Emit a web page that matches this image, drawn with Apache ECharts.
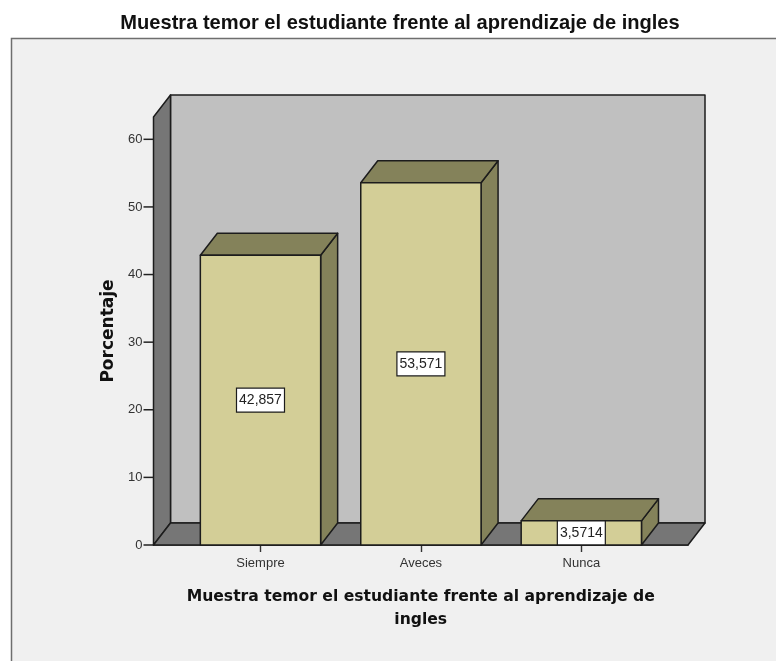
<!DOCTYPE html>
<html>
<head>
<meta charset="utf-8">
<style>html,body{margin:0;padding:0;background:#fff}#main{width:776px;height:661px}</style>
<script src="https://cdn.jsdelivr.net/npm/echarts@6/dist/echarts.min.js"></script>
</head>
<body>
<div id="main"></div>
<script>
const categories = ['Siempre', 'Aveces', 'Nunca']
const values = [42.857, 53.571, 3.5714]
const valueLabels = ['42,857', '53,571', '3,5714']
const yTicks = [0, 10, 20, 30, 40, 50, 60]
const chartTitle = 'Muestra temor el estudiante frente al aprendizaje de ingles'
const xName = 'Muestra temor el estudiante frente al aprendizaje de\ningles'
const yName = 'Porcentaje'

const xMin = -0.667
const xMax = 2.665
const yMax = 63.3
const barWidth = 0.75
const depthX = 17
const depthY = -22
const edge = '#1c1c1c'

const poly = (points, fill) => ({
  type: 'polygon',
  shape: { points },
  style: { fill, stroke: edge, lineWidth: 1.5, lineJoin: 'round' },
})
const back = (p) => [p[0] + depthX, p[1] + depthY]

const renderWalls = (params, api) => {
  const bl = api.coord([xMin, 0])
  const br = api.coord([xMax, 0])
  const tl = api.coord([xMin, yMax])
  return {
    type: 'group',
    children: [
      poly([back(tl), [br[0] + depthX, tl[1] + depthY], back(br), back(bl)], '#c0c0c0'),
      poly([tl, back(tl), back(bl), bl], '#767676'),
      poly([bl, back(bl), back(br), br], '#767676'),
    ],
  }
}

const renderBar = (params, api) => {
  const i = api.value(0)
  const v = api.value(1)
  const fl = api.coord([i - barWidth / 2, 0])
  const fr = api.coord([i + barWidth / 2, 0])
  const tl = api.coord([i - barWidth / 2, v])
  const tr = api.coord([i + barWidth / 2, v])
  const cx = (fl[0] + fr[0]) / 2
  const cy = (fl[1] + tl[1]) / 2
  return {
    type: 'group',
    children: [
      poly([fr, tr, back(tr), back(fr)], '#84825a'),
      poly([tl, back(tl), back(tr), tr], '#84825a'),
      poly([tl, tr, fr, fl], '#d3ce97'),
      {
        type: 'rect',
        shape: { x: cx - 24, y: cy - 12, width: 48, height: 24 },
        style: { fill: '#fff', stroke: edge, lineWidth: 1.2 },
      },
      {
        type: 'text',
        style: {
          x: cx,
          y: cy,
          text: valueLabels[params.dataIndex],
          fill: '#222',
          font: '14px "Liberation Sans"',
          align: 'center',
          verticalAlign: 'middle',
        },
      },
    ],
  }
}

// the y ticks sit on the axis line, left of the side wall
const renderTick = (params, api) => {
  const p = api.coord([xMin, api.value(0)])
  return {
    type: 'line',
    shape: { x1: p[0] - 10, y1: p[1], x2: p[0], y2: p[1] },
    style: { stroke: '#222', lineWidth: 1.5 },
  }
}

const myChart = echarts.init(document.getElementById('main'), null, { renderer: 'canvas' })
const option = {
  animation: false,
  backgroundColor: '#fff',
  title: {
    text: chartTitle,
    left: 395,
    top: 8,
    textAlign: 'center',
    textStyle: { fontFamily: 'Liberation Sans', fontWeight: 'bold', fontSize: 20.1, color: '#111' },
  },
  graphic: [
    {
      type: 'rect',
      z: -10,
      shape: { x: 11.5, y: 38.5, width: 790, height: 650 },
      style: { fill: '#f0f0f0', stroke: '#6e6e6e', lineWidth: 1.5 },
    },
  ],
  grid: { left: 153.5, right: 88, top: 117, bottom: 116 },
  xAxis: {
    type: 'value',
    min: xMin,
    max: xMax,
    name: xName,
    nameLocation: 'middle',
    nameGap: 40,
    nameTextStyle: { fontFamily: 'DejaVu Sans', fontWeight: 'bold', fontSize: 15.6, color: '#111', lineHeight: 23 },
    splitLine: { show: false },
    axisLine: { show: true, lineStyle: { color: edge, width: 1.5 } },
    axisTick: { show: true, length: 7, customValues: [0, 1, 2], lineStyle: { color: '#333', width: 1.4 } },
    axisLabel: {
      customValues: [0, 1, 2],
      formatter: (v) => categories[v],
      margin: 12,
      fontFamily: 'Liberation Sans',
      fontSize: 13,
      color: '#333',
    },
  },
  yAxis: {
    type: 'value',
    min: 0,
    max: yMax,
    name: yName,
    nameLocation: 'middle',
    nameGap: 36,
    nameTextStyle: { fontFamily: 'DejaVu Sans', fontWeight: 'bold', fontSize: 17, color: '#111' },
    splitLine: { show: false },
    axisLine: { show: true, lineStyle: { color: edge, width: 1.5 } },
    axisTick: { show: false },
    axisLabel: { customValues: yTicks, margin: 11, padding: [3, 0, 0, 0], fontFamily: 'Liberation Sans', fontSize: 13, color: '#333' },
  },
  series: [
    {
      type: 'custom',
      silent: true,
      clip: false,
      z: 1,
      renderItem: renderWalls,
      data: [[0, 0]],
    },
    {
      type: 'custom',
      silent: true,
      clip: false,
      z: 2,
      renderItem: renderBar,
      encode: { x: 0, y: 1 },
      data: values.map((v, i) => [i, v]),
    },
    {
      type: 'custom',
      silent: true,
      clip: false,
      z: 3,
      renderItem: renderTick,
      encode: { y: 0 },
      data: yTicks.map((t) => [t]),
    },
  ],
}
myChart.setOption(option)
</script>
</body>
</html>
